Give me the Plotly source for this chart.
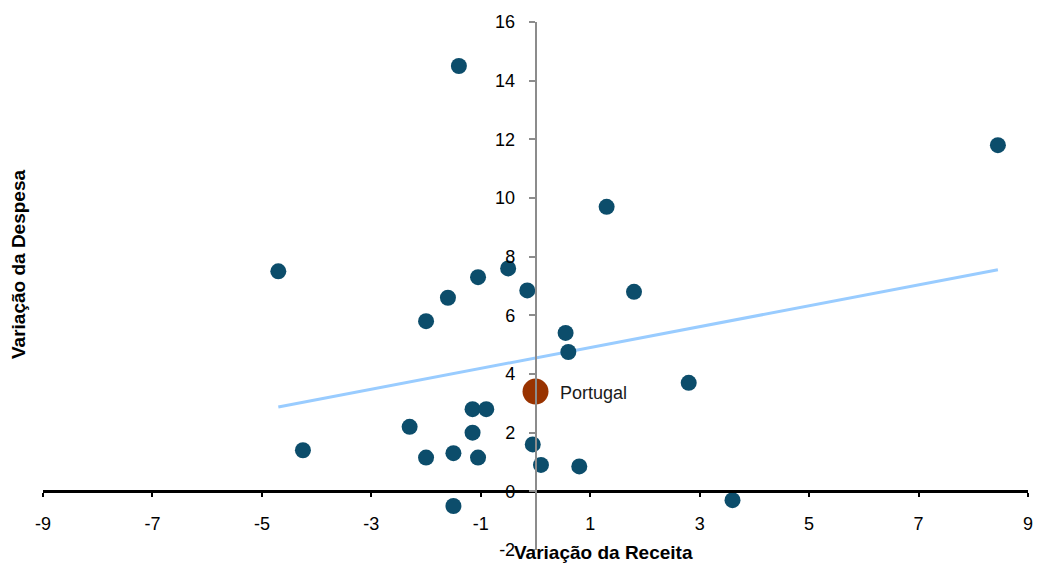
import numpy as np
import plotly.graph_objects as go

# Data (variation of revenue vs variation of expenditure)
receita = [-1.4, 8.45, 1.3, -4.7, -0.5, -1.05, -0.15, -1.6, 1.8, -2.0, 0.55, 0.6, 2.8,
           -1.15, -0.9, -2.3, -1.15, -4.25, -0.05, -2.0, -1.5, -1.05, 0.1, 0.8, -1.5, 3.6]
despesa = [14.5, 11.8, 9.7, 7.5, 7.6, 7.3, 6.85, 6.6, 6.8, 5.8, 5.4, 4.75, 3.7,
           2.8, 2.8, 2.2, 2.0, 1.4, 1.6, 1.15, 1.3, 1.15, 0.9, 0.85, -0.5, -0.3]
portugal_label = ["Portugal"]
portugal_receita = [0.0]
portugal_despesa = [3.4]

x_ticks = [-9, -7, -5, -3, -1, 1, 3, 5, 7, 9]
y_ticks = [-2, 0, 2, 4, 6, 8, 10, 12, 14, 16]

# Linear trendline (least squares) over the other countries
slope, intercept = np.polyfit(receita, despesa, 1)
tx = np.array([min(receita), max(receita)])
ty = slope * tx + intercept

FONT = "Liberation Sans, Arial, sans-serif"

W, H = 1037, 563
L, R, T, B = 43, 9, 22, 13
PW, PH = W - L - R, H - T - B

fig = go.Figure()
fig.add_trace(go.Scatter(x=tx, y=ty, mode="lines",
                         line=dict(color="#99CCFF", width=3),
                         hoverinfo="skip", showlegend=False))
fig.add_trace(go.Scatter(x=receita, y=despesa, mode="markers",
                         marker=dict(color="#0C4D6B", size=16, line=dict(width=0)),
                         showlegend=False))
fig.add_trace(go.Scatter(x=portugal_receita, y=portugal_despesa, mode="markers",
                         marker=dict(color="#993300", size=26, line=dict(width=0)),
                         showlegend=False))

fig.update_layout(
    width=W, height=H,
    margin=dict(l=L, r=R, t=T, b=B, autoexpand=False),
    paper_bgcolor="white", plot_bgcolor="white",
    font=dict(family=FONT, size=18, color="#000000"),
    xaxis=dict(range=[-9, 9], tickvals=x_ticks, ticktext=[str(v) for v in x_ticks],
               anchor="free", position=2 / 18, showgrid=False, zeroline=False,
               automargin=False, ticklabeloverflow="allow",
               showline=True, linecolor="#000000", linewidth=2.5,
               ticks="outside", ticklen=4, tickwidth=1.5, tickcolor="#000000",
               ticklabelstandoff=11, tickfont=dict(size=18)),
    yaxis=dict(range=[-2, 16], tickvals=y_ticks, ticktext=[str(v) for v in y_ticks],
               anchor="free", position=0.5, showgrid=False, zeroline=False,
               automargin=False, ticklabeloverflow="allow",
               showline=True, linecolor="#8c8c8c", linewidth=1.5,
               ticks="outside", ticklen=6, tickwidth=1.5, tickcolor="#8c8c8c",
               ticklabelstandoff=10, tickfont=dict(size=18)),
    annotations=[
        dict(text=portugal_label[0], x=portugal_receita[0], y=portugal_despesa[0],
             xref="x", yref="y", xanchor="left", yanchor="middle", xshift=22, yshift=-1,
             showarrow=False, font=dict(size=18, color="#1a1a1a")),
        dict(text="<b>Variação da Receita</b>", xref="paper", yref="paper",
             x=(603 - L) / PW, y=(H - B - 552) / PH, xanchor="center", yanchor="middle",
             showarrow=False, font=dict(size=19, color="#000000")),
        dict(text="<b>Variação da Despesa</b>", xref="paper", yref="paper",
             x=(18 - L) / PW, y=(H - B - 265) / PH, xanchor="center", yanchor="middle",
             textangle=-90, showarrow=False, font=dict(size=19, color="#000000")),
    ],
)

fig.write_html("out.html",
               config={"displayModeBar": False},
               post_script="document.body.style.margin='0';document.body.style.overflow='hidden';")
